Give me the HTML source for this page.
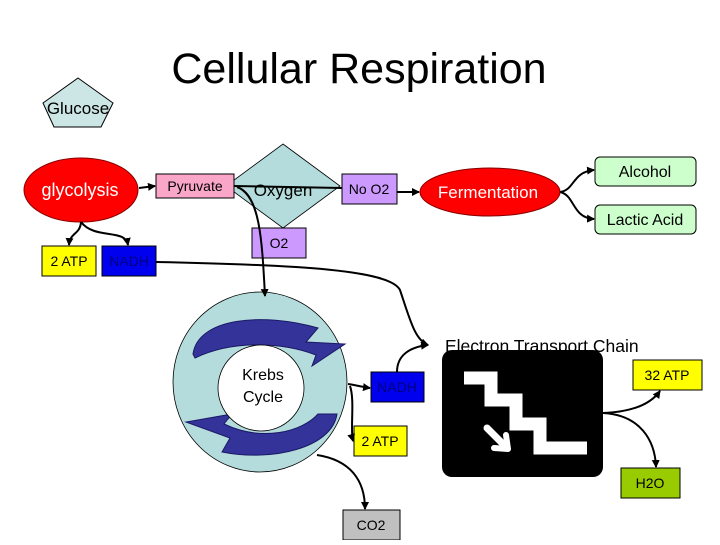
<!DOCTYPE html>
<html><head><style>
body{margin:0;background:#fff}
svg text{font-family:"Liberation Sans",Arial,sans-serif}
</style></head><body>
<svg width="720" height="540" viewBox="0 0 720 540" xmlns="http://www.w3.org/2000/svg">
<defs><marker id="a" markerWidth="8" markerHeight="8" refX="7" refY="4" orient="auto" markerUnits="userSpaceOnUse"><path d="M0,0 L8,4 L0,8 z" fill="#000"/></marker></defs>
<rect width="720" height="540" fill="#fff"/>
<text x="359" y="83" font-size="43" text-anchor="middle">Cellular Respiration</text>
<polygon points="78,78 113,103 101,127 54,127 43,103" fill="#cce5e5" stroke="#000" stroke-width="1"/>
<text x="78" y="114" font-size="17" text-anchor="middle">Glucose</text>
<polygon points="283,144 340,186 283,228 226,186" fill="#b5dcdc" stroke="#000" stroke-width="0.8"/>
<ellipse cx="81" cy="190" rx="57" ry="32" fill="#ff0000" stroke="#800" stroke-width="1"/>
<text x="80" y="196" font-size="18" fill="#fff" text-anchor="middle">glycolysis</text>
<rect x="156" y="174" width="78" height="24" fill="#f9a6c9" stroke="#000" stroke-width="1"/>
<text x="195" y="191" font-size="14" text-anchor="middle">Pyruvate</text>
<text x="283" y="196" font-size="17" text-anchor="middle">Oxygen</text>
<rect x="252" y="228" width="54" height="30" fill="#cc99ff" stroke="#000" stroke-width="1"/>
<text x="279" y="248" font-size="14" text-anchor="middle">O2</text>
<rect x="342" y="174" width="55" height="30" fill="#cc99ff" stroke="#000" stroke-width="1"/>
<text x="369" y="194" font-size="14" text-anchor="middle">No O2</text>
<ellipse cx="490" cy="192" rx="70" ry="24" fill="#ff0000" stroke="#800" stroke-width="1"/>
<text x="488" y="198" font-size="17" fill="#fff" text-anchor="middle">Fermentation</text>
<rect x="595" y="157" width="101" height="29" rx="5" fill="#ccffcc" stroke="#000" stroke-width="1"/>
<text x="645" y="177" font-size="16" text-anchor="middle">Alcohol</text>
<rect x="595" y="205" width="101" height="29" rx="5" fill="#ccffcc" stroke="#000" stroke-width="1"/>
<text x="645" y="225" font-size="16" text-anchor="middle">Lactic Acid</text>
<rect x="42" y="246" width="54" height="30" fill="#ffff00" stroke="#000" stroke-width="1"/>
<text x="69" y="266" font-size="14" text-anchor="middle">2 ATP</text>
<rect x="102" y="246" width="54" height="30" fill="#0000ee" stroke="#000" stroke-width="1"/>
<text x="129" y="266" font-size="14" text-anchor="middle" fill="#000080">NADH</text>
<ellipse cx="260" cy="382" rx="87" ry="90" fill="#b5dcdc" stroke="#000" stroke-width="0.8"/>
<path d="M193,354 C198,318 262,312 318,328 L306,342 L345,344 L312,366 L316,355 C282,342 232,340 195,358 z" fill="#333399" stroke="#1a1a66"/>
<path d="M337,414 C332,448 272,462 222,452 L230,438 L186,422 L232,414 L224,424 C262,442 302,432 318,414 z" fill="#333399" stroke="#1a1a66"/>
<circle cx="261" cy="388" r="43" fill="#fff" stroke="#000" stroke-width="0.8"/>
<text x="263" y="380" font-size="16" text-anchor="middle">Krebs</text>
<text x="263" y="402" font-size="16" text-anchor="middle">Cycle</text>
<rect x="371" y="372" width="53" height="30" fill="#0000ee" stroke="#000" stroke-width="1"/>
<text x="397" y="392" font-size="14" text-anchor="middle" fill="#000080">NADH</text>
<rect x="354" y="426" width="53" height="30" fill="#ffff00" stroke="#000" stroke-width="1"/>
<text x="380" y="446" font-size="14" text-anchor="middle">2 ATP</text>
<rect x="343" y="510" width="57" height="30" fill="#c0c0c0" stroke="#000" stroke-width="1"/>
<text x="371" y="530" font-size="14" text-anchor="middle">CO2</text>
<text x="445" y="352" font-size="17.5">Electron Transport Chain</text>
<rect x="442" y="350" width="161" height="127" rx="10" fill="#000"/>
<polyline points="464,378 491,378 491,400 516,400 516,424 540,424 540,448 587,448" fill="none" stroke="#fff" stroke-width="13"/>
<path d="M487,428 L503,444" stroke="#fff" stroke-width="7" stroke-linecap="round"/>
<path d="M494,448 L508,449 L506,435" fill="none" stroke="#fff" stroke-width="6" stroke-linecap="round" stroke-linejoin="round"/>
<rect x="633" y="360" width="69" height="30" fill="#ffff00" stroke="#000" stroke-width="1"/>
<text x="667" y="380" font-size="14" text-anchor="middle">32 ATP</text>
<rect x="621" y="468" width="59" height="30" fill="#99cc00" stroke="#000" stroke-width="1"/>
<text x="650" y="488" font-size="14" text-anchor="middle">H2O</text>
<g fill="none" stroke="#000" stroke-width="2">
<path d="M139,188 L155,186" marker-end="url(#a)"/>
<path d="M81,222 C80,235 70,232 69,245" marker-end="url(#a)"/>
<path d="M81,222 C95,240 125,228 128,245" marker-end="url(#a)"/>
<path d="M234,186 L342,188"/>
<path d="M237,187 C260,195 262,240 265,296" marker-end="url(#a)"/>
<path d="M156,262 C300,265 390,270 400,290 C410,320 415,340 428,345" marker-end="url(#a)"/>
<path d="M397,192 L419,192" marker-end="url(#a)"/>
<path d="M560,192 C575,190 572,172 594,170" marker-end="url(#a)"/>
<path d="M560,192 C575,195 572,218 594,219" marker-end="url(#a)"/>
<path d="M348,384 C355,385 362,387 370,388" marker-end="url(#a)"/>
<path d="M350,386 C355,400 350,430 353,441" marker-end="url(#a)"/>
<path d="M317,455 C350,460 365,480 365,509" marker-end="url(#a)"/>
<path d="M397,372 C397,355 410,347 428,345" marker-end="url(#a)"/>
<path d="M603,413 C630,412 650,405 660,391" marker-end="url(#a)"/>
<path d="M603,413 C640,415 655,440 656,467" marker-end="url(#a)"/>
</g>
</svg>
</body></html>
